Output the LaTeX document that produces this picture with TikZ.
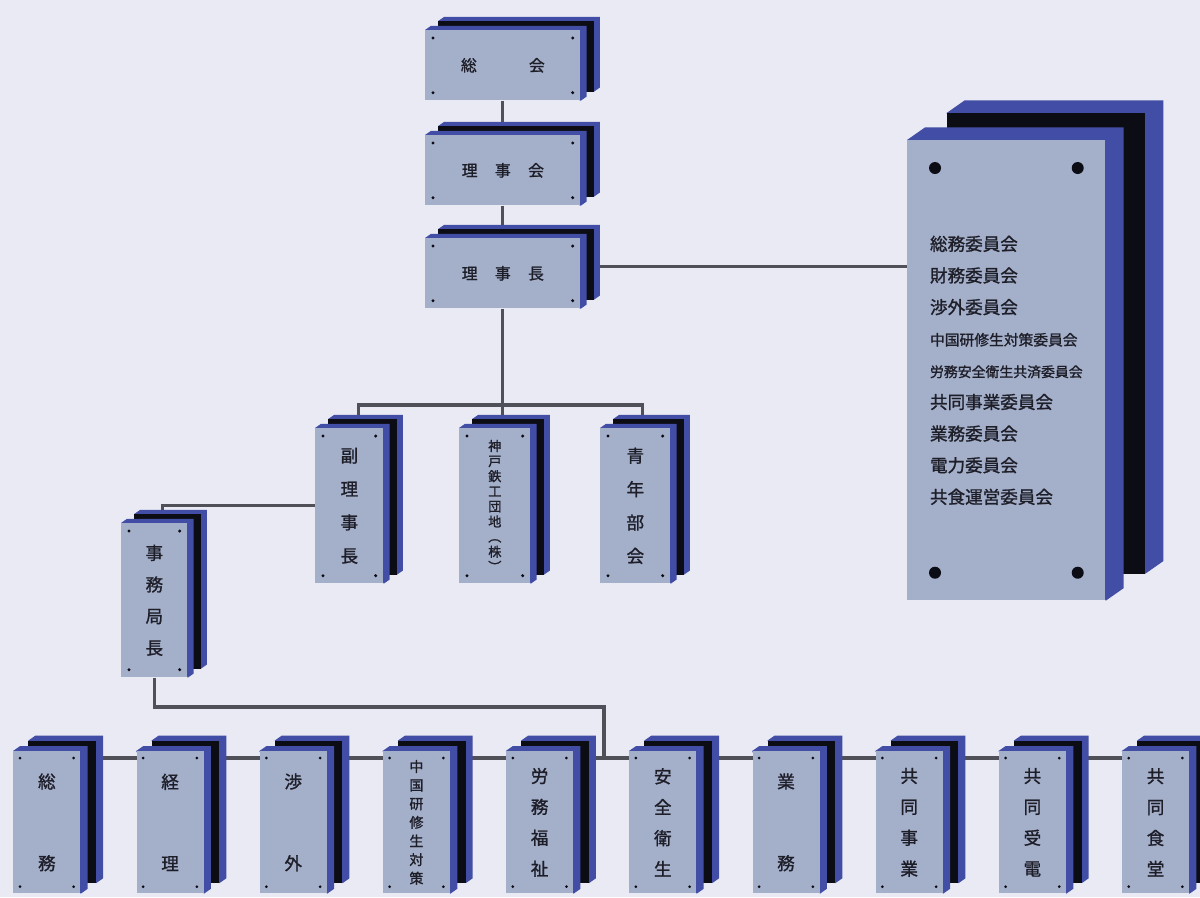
\documentclass[tikz,border=0pt]{standalone}
\usepackage{fontspec}
\newfontfamily\jfont[FakeBold=1.2]{Noto Sans CJK JP}
\usetikzlibrary{calc,positioning}
\definecolor{bgc}{RGB}{233,234,243}
\definecolor{facec}{RGB}{164,175,202}
\definecolor{sidec}{RGB}{66,78,165}
\definecolor{slabc}{RGB}{12,12,20}
\definecolor{wirec}{RGB}{80,80,88}
\definecolor{textc}{RGB}{30,30,40}
\pgfdeclarelayer{wires}
\pgfdeclarelayer{slabs}
\pgfsetlayers{wires,slabs,main}
\tikzset{
  face/.style={fill=facec,draw=none,inner sep=0pt,anchor=north west,
               align=center,text=textc},
  topbox/.style={face,minimum width=155*0.02cm,minimum height=70*0.02cm,
                 font=\jfont\fontsize{9}{11}\selectfont},
  midbox/.style={face,minimum width=68*0.02cm,minimum height=155*0.02cm,
                 font=\jfont\fontsize{10}{19}\selectfont},
  lowbox/.style={face,minimum width=67*0.02cm,minimum height=142*0.02cm,
                 font=\jfont\fontsize{10}{17.6}\selectfont},
  wire/.style={draw=wirec,line width=1.8pt},
}
% back panel + blue sides behind a face node
\newcommand{\slab}[2]{%
  \begin{pgfonlayer}{slabs}
    \fill[sidec] ($(#1.north west)+(2.2*#2,-1.5*#2)$) -- ++(#2,-0.7*#2)
      -- ($(#1.north east)+(3.2*#2,-2.2*#2)$) -- ($(#1.south east)+(3.2*#2,-2.2*#2)$)
      -- ($(#1.south east)+(2.2*#2,-1.5*#2)$) -- cycle;
    \fill[slabc] ($(#1.north west)+(2.2*#2,-1.5*#2)$) rectangle ($(#1.south east)+(2.2*#2,-1.5*#2)$);
    \fill[sidec] (#1.north west) -- ++(#2,-0.7*#2)
      -- ($(#1.north east)+(#2,-0.7*#2)$) -- ($(#1.south east)+(#2,-0.7*#2)$)
      -- (#1.south east) -- cycle;
  \end{pgfonlayer}}
\newcommand{\rivets}[3]{%
  \foreach \a/\sx/\sy in {north west/1/1,north east/-1/1,south west/1/-1,south east/-1/-1}
    \fill[slabc] ($(#1.\a)+(\sx*#2,\sy*#2)$) circle[radius=#3*0.02cm];}

\begin{document}
\begin{tikzpicture}[x=0.02cm,y=-0.02cm,node distance=1.11cm]
  \useasboundingbox (0,0) rectangle (1200,897);

  % top chain
  \node[topbox] (soukai) at (425,30) {総\hspace{3.3em}会};
  \node[topbox] (rijikai) at (425,135) {理\hspace{1.1em}事\hspace{1.1em}会};
  \node[topbox] (rijicho) at (425,238) {理\hspace{1.1em}事\hspace{1.1em}長};

  % committees
  \node[face,align=left,minimum width=198*0.02cm,minimum height=460*0.02cm,
        font=\jfont\fontsize{10}{18}\selectfont] (iinkai) at (907,140)
    {総務委員会\\財務委員会\\渉外委員会\\
     {\fontsize{8.4}{18}\selectfont 中国研修生対策委員会}\\
     {\fontsize{7.9}{18}\selectfont 労務安全衛生共済委員会}\\
     共同事業委員会\\業務委員会\\電力委員会\\共食運営委員会};

  % middle row
  \node[midbox] (fuku) at (315,428) {副\\理\\事\\長};
  \node[midbox,minimum width=71*0.02cm,font=\jfont\fontsize{7.5}{8.6}\selectfont]
    (kobe) at (459,428) {神\\戸\\鉄\\工\\団\\地\\︵\\株\\︶};
  \node[midbox,minimum width=70*0.02cm] (seinen) at (600,428) {青\\年\\部\\会};
  \node[midbox,minimum width=66*0.02cm,minimum height=154*0.02cm,
        font=\jfont\fontsize{10}{18}\selectfont] (jimu) at (121,523) {事\\務\\局\\長};

  % bottom row
  \node[lowbox] (low1) at (13,751) {総\\[28.9pt]務};
  \node[lowbox,right=of low1] (low2) {経\\[28.9pt]理};
  \node[lowbox,right=of low2] (low3) {渉\\[28.9pt]外};
  \node[lowbox,right=of low3,font=\jfont\fontsize{8}{10.6}\selectfont] (low4) {中\\国\\研\\修\\生\\対\\策};
  \node[lowbox,right=of low4] (low5) {労\\務\\福\\祉};
  \node[lowbox,right=of low5] (low6) {安\\全\\衛\\生};
  \node[lowbox,right=of low6] (low7) {業\\[28.9pt]務};
  \node[lowbox,right=of low7] (low8) {共\\同\\事\\業};
  \node[lowbox,right=of low8] (low9) {共\\同\\受\\電};
  \node[lowbox,right=of low9] (low10) {共\\同\\食\\堂};

  % 3d panels and rivets
  \foreach \n in {soukai,rijikai,rijicho,fuku,kobe,seinen,jimu} {\slab{\n}{6}\rivets{\n}{8}{1.7}}
  \foreach \i in {1,...,10} {\slab{low\i}{7}\rivets{low\i}{7}{1.5}}
  \slab{iinkai}{18}
  \rivets{iinkai}{28}{6}

  % connectors
  \begin{pgfonlayer}{wires}
    \fill[bgc] (0,0) rectangle (1200,897);
    \draw[wire] (soukai.south) -- (rijikai.north);
    \draw[wire] (rijikai.south) -- (rijicho.north);
    \coordinate (knob) at ($(rijicho.east)+(0,-7)$);
    \draw[wire] (knob) -- (knob -| iinkai.west);
    \draw[wire] (rijicho.south) -- (rijicho.south |- kobe.north);
    \coordinate (midbus) at (502,405);
    \draw[wire] ($(fuku.north)+(9,0)$) |- (midbus) -| ($(seinen.north)+(7,0)$);
    \draw[wire] ($(jimu.north)+(8,0)$) |- (fuku.west);
    \coordinate (jbend) at (604,707);
    \coordinate (busw) at ($(low1.north)+(0,7)$);
    \draw[wire] (jimu.south) |- (jbend) -- (jbend |- busw);
    \draw[wire] (busw) -- ($(low10.north)+(0,7)$);
  \end{pgfonlayer}
\end{tikzpicture}
\end{document}
